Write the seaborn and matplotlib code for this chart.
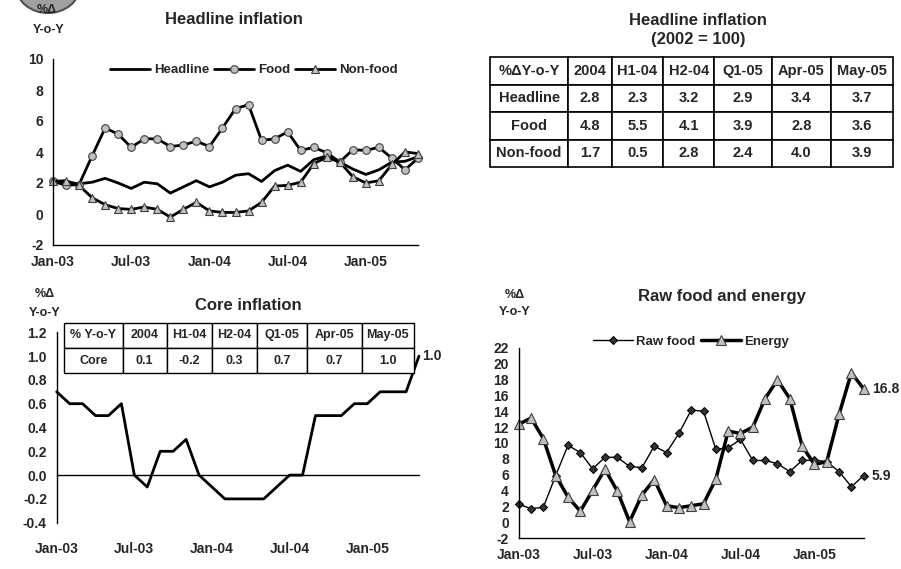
import numpy as np
import pandas as pd
import seaborn as sns
from matplotlib import pyplot as plt
from matplotlib.patches import Ellipse

# monthly data, Jan-03 .. May-05
months = np.arange(29)
tick_pos = [0, 6, 12, 18, 24]
tick_lab = ['Jan-03', 'Jul-03', 'Jan-04', 'Jul-04', 'Jan-05']

headline = [2.15, 2.05, 1.95, 2.05, 2.3, 2.0, 1.65, 2.05, 1.95, 1.35, 1.75, 2.15,
            1.75, 2.05, 2.5, 2.6, 2.1, 2.8, 3.15, 2.75, 3.5, 3.75, 3.35, 2.9,
            2.55, 2.85, 3.35, 3.4, 3.7]
food = [2.1, 1.85, 1.9, 3.75, 5.55, 5.15, 4.3, 4.85, 4.85, 4.35, 4.45, 4.7,
        4.35, 5.55, 6.8, 7.05, 4.75, 4.85, 5.3, 4.1, 4.3, 3.95, 3.35, 4.15,
        4.1, 4.3, 3.6, 2.85, 3.6]
nonfood = [2.1, 2.15, 1.85, 1.05, 0.6, 0.35, 0.3, 0.45, 0.3, -0.2, 0.3, 0.75,
           0.2, 0.1, 0.1, 0.2, 0.75, 1.8, 1.85, 2.05, 3.25, 3.65, 3.35, 2.4,
           2.0, 2.15, 3.2, 4.0, 3.9]
core = [0.7, 0.6, 0.6, 0.5, 0.5, 0.6, 0.0, -0.1, 0.2, 0.2, 0.3, 0.0,
        -0.1, -0.2, -0.2, -0.2, -0.2, -0.1, 0.0, 0.0, 0.5, 0.5, 0.5, 0.6,
        0.6, 0.7, 0.7, 0.7, 1.0]
raw_food = [2.27, 1.75, 1.9, 5.9, 9.7, 8.8, 6.75, 8.2, 8.2, 7.05, 6.9, 9.6,
            8.8, 11.2, 14.15, 14.0, 9.2, 9.4, 10.45, 7.8, 7.8, 7.4, 6.4, 7.8,
            7.85, 7.65, 6.4, 4.5, 5.9]
energy = [12.35, 13.15, 10.55, 5.9, 3.2, 1.4, 4.05, 6.7, 3.95, 0.1, 3.45, 5.4,
          2.1, 1.85, 2.1, 2.35, 5.45, 11.5, 11.2, 12.0, 15.6, 17.95, 15.6, 9.65,
          7.3, 7.65, 13.6, 18.85, 16.8]

# tables
hl_cols = ['%\u0394Y-o-Y', '2004', 'H1-04', 'H2-04', 'Q1-05', 'Apr-05', 'May-05']
hl_rows = [['Headline', '2.8', '2.3', '3.2', '2.9', '3.4', '3.7'],
           ['Food', '4.8', '5.5', '4.1', '3.9', '2.8', '3.6'],
           ['Non-food', '1.7', '0.5', '2.8', '2.4', '4.0', '3.9']]
core_cols = ['% Y-o-Y', '2004', 'H1-04', 'H2-04', 'Q1-05', 'Apr-05', 'May-05']
core_rows = [['Core', '0.1', '-0.2', '0.3', '0.7', '0.7', '1.0']]

sns.set_style('white')
plt.rcParams['font.family'] = ['Liberation Sans', 'DejaVu Sans']
plt.rcParams['font.weight'] = 'bold'
plt.rcParams['axes.unicode_minus'] = False

W, H = 901, 569
fig = plt.figure(figsize=(W / 100, H / 100), dpi=100)


def box(x0, y0, x1, y1):
    return [x0 / W, 1 - y1 / H, (x1 - x0) / W, (y1 - y0) / H]


def style(ax):
    sns.despine(ax=ax)
    for s in ['left', 'bottom']:
        ax.spines[s].set_color('black')
        ax.spines[s].set_linewidth(1)
    ax.tick_params(axis='both', direction='out', length=4, width=1, color='black',
                   labelsize=10, pad=3)
    ax.set_xticks(tick_pos)
    ax.set_xticklabels(tick_lab)
    ax.set_xlim(0, 28)
    ax.set_xlabel('')
    ax.set_ylabel('')


gray = '#c0c0c0'

# logo remnant
fig.patches.append(Ellipse((48 / W, 1 + 14 / H), 64 / W, 54 / H, transform=fig.transFigure,
                           facecolor='#a0a0a0', edgecolor='#505050', lw=1.5))

# ---- headline inflation
ax1 = fig.add_axes(box(53, 59, 418, 245))
sns.lineplot(x=months, y=headline, ax=ax1, color='black', lw=2, label='Headline',
             clip_on=False)
sns.lineplot(x=months, y=food, ax=ax1, color='black', lw=2, marker='o', ms=5.5,
             markerfacecolor=gray, markeredgecolor='#404040', mew=0.8, label='Food',
             clip_on=False)
sns.lineplot(x=months, y=nonfood, ax=ax1, color='black', lw=2, marker='^', ms=6,
             markerfacecolor=gray, markeredgecolor='#404040', mew=0.8, label='Non-food',
             clip_on=False)
style(ax1)
ax1.set_ylim(-2, 10)
ax1.set_yticks(range(-2, 11, 2))
ax1.legend(loc='center', bbox_to_anchor=(0.55, 0.94), ncol=3, frameon=False,
           fontsize=9.5, handlelength=3, handletextpad=0.3, columnspacing=0.4)
fig.text(49 / W, 1 - 30 / H, 'Y-o-Y', ha='center', va='center', fontsize=9)
fig.text(47 / W, 1 - 10 / H, '%\u0394', ha='center', va='center', fontsize=9)
fig.text(234 / W, 1 - 20 / H, 'Headline inflation', ha='center', va='center', fontsize=12)

# ---- headline table
fig.text(698 / W, 1 - 30 / H, 'Headline inflation\n(2002 = 100)', ha='center',
         va='center', fontsize=12, linespacing=1.3)
axt = fig.add_axes(box(490, 57, 893, 167))
axt.axis('off')
widths = np.array([78.3, 43.3, 51.7, 51, 58, 58.7, 62.3])
tb = axt.table(cellText=hl_rows, colLabels=hl_cols, cellLoc='center',
               colWidths=list(widths / widths.sum()), bbox=[0, 0, 1, 1])
tb.auto_set_font_size(False)
for (r, c), cell in tb.get_celld().items():
    cell.set_linewidth(1.2)
    cell.set_edgecolor('black')
    cell.get_text().set_fontsize(10.5)
    cell.get_text().set_fontweight('bold')

# ---- core inflation
ax3 = fig.add_axes(box(56.7, 332.3, 419, 522.7))
sns.lineplot(x=months, y=core, ax=ax3, color='black', lw=2, clip_on=False)
style(ax3)
ax3.set_ylim(-0.4, 1.2)
ax3.set_yticks(np.round(np.arange(-0.4, 1.21, 0.2), 1))
ax3.yaxis.set_major_formatter('{x:.1f}')
ax3.spines['bottom'].set_position(('data', 0))
ax3.tick_params(axis='x', labelbottom=False)
sec = ax3.secondary_xaxis('bottom')
sec.set_xticks(tick_pos)
sec.set_xticklabels(tick_lab)
sec.spines['bottom'].set_visible(False)
sec.tick_params(length=0, labelsize=10, pad=14)
ax3.text(28.25, core[-1], '1.0', ha='left', va='center', fontsize=10)
fig.text(248 / W, 1 - 305 / H, 'Core inflation', ha='center', va='center', fontsize=12)
fig.text(45 / W, 1 - 294 / H, '%\u0394', ha='center', va='center', fontsize=9)
fig.text(45 / W, 1 - 313 / H, 'Y-o-Y', ha='center', va='center', fontsize=9)
axc = fig.add_axes(box(64, 322.7, 414, 373.3))
axc.axis('off')
cw = np.array([58.7, 44, 45.6, 44.4, 50, 55, 52.3])
tc = axc.table(cellText=core_rows, colLabels=core_cols, cellLoc='center',
               colWidths=list(cw / cw.sum()), bbox=[0, 0, 1, 1])
tc.auto_set_font_size(False)
for (r, c), cell in tc.get_celld().items():
    cell.set_linewidth(1)
    cell.set_edgecolor('black')
    cell.get_text().set_fontsize(9)
    cell.get_text().set_fontweight('bold')

# ---- raw food and energy
ax4 = fig.add_axes(box(518.7, 347.7, 863.7, 538.3))
sns.lineplot(x=months, y=raw_food, ax=ax4, color='black', lw=1, marker='D', ms=4.5,
             markerfacecolor='#333333', markeredgecolor='black', label='Raw food',
             clip_on=False)
sns.lineplot(x=months, y=energy, ax=ax4, color='black', lw=2.5, marker='^', ms=6.5,
             markerfacecolor=gray, markeredgecolor='#404040', mew=0.8, label='Energy',
             clip_on=False)
style(ax4)
ax4.set_ylim(-2, 22)
ax4.set_yticks(range(-2, 23, 2))
ax4.legend(loc='center', bbox_to_anchor=(0.50, 1.03), ncol=2, frameon=False,
           fontsize=9.5, handlelength=3, handletextpad=0.3, columnspacing=0.4)
ax4.text(28.65, energy[-1], '16.8', ha='left', va='center', fontsize=10, clip_on=False)
ax4.text(28.65, raw_food[-1], '5.9', ha='left', va='center', fontsize=10, clip_on=False)
fig.text(722 / W, 1 - 297 / H, 'Raw food and energy', ha='center', va='center', fontsize=12)
fig.text(515 / W, 1 - 295 / H, '%\u0394', ha='center', va='center', fontsize=9)
fig.text(515 / W, 1 - 312 / H, 'Y-o-Y', ha='center', va='center', fontsize=9)

fig.savefig('out.png', dpi=100)
